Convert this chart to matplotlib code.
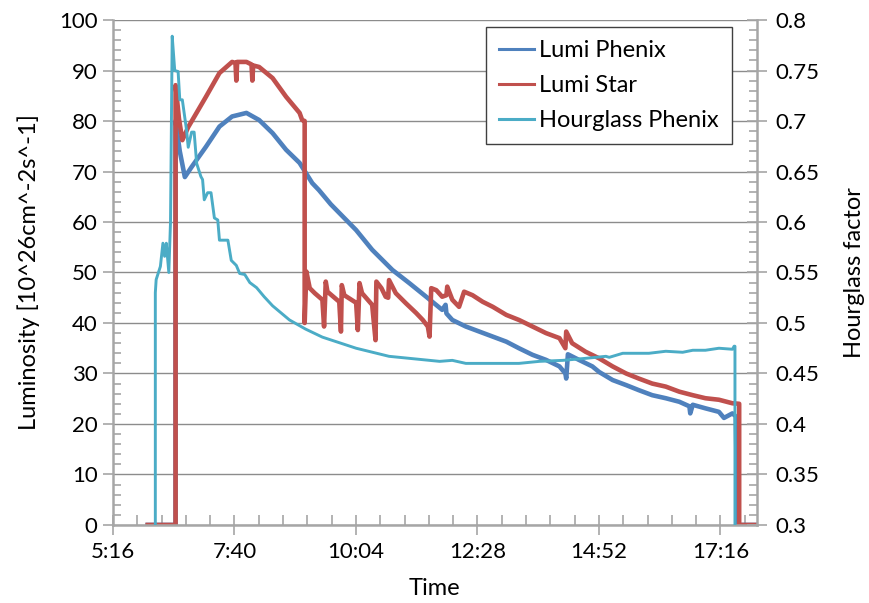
import matplotlib
matplotlib.use("Agg")
import matplotlib.pyplot as plt
from matplotlib.ticker import FixedLocator, MultipleLocator, FuncFormatter
from matplotlib.lines import Line2D

plt.rcParams['font.family'] = ['Lato', 'DejaVu Sans']

# Lumi Star (left axis)
star_t = ["5:58", "6:31", "6:31", "6:35", "6:39", "6:46", "7:07", "7:23", "7:38", "7:42", "7:43", "7:44",
          "7:55", "8:01", "8:02", "8:03", "8:10", "8:26", "8:42", "8:58", "9:01", "9:04", "9:04", "9:06",
          "9:10", "9:16", "9:25", "9:27", "9:29", "9:31", "9:45", "9:47", "9:48", "9:51", "10:05", "10:07",
          "10:09", "10:12", "10:24", "10:28", "10:29", "10:35", "10:40", "10:43", "10:44", "10:52", "11:04",
          "11:16", "11:24", "11:30", "11:32", "11:34", "11:40", "11:47", "11:52", "11:53", "11:59", "12:07",
          "12:13", "12:23", "12:35", "12:47", "13:03", "13:18", "13:34", "13:50", "14:06", "14:13", "14:14",
          "14:21", "14:37", "14:53", "15:09", "15:25", "15:40", "15:56", "16:12", "16:28", "16:44", "16:59",
          "17:15", "17:31", "17:39", "17:39", "17:59"]
star_v = [0, 0, 87.1, 80.5, 76.2, 78.8, 84.8, 89.5, 91.7, 91.5, 88.0, 91.7,
          91.7, 91.2, 88.0, 91.0, 90.7, 88.5, 84.8, 81.6, 80.2, 80.0, 40.0, 50.2,
          46.9, 45.9, 44.6, 39.3, 48.2, 46.2, 44.2, 38.3, 47.5, 45.5, 44.0, 38.6,
          47.9, 45.9, 43.6, 36.6, 48.2, 46.9, 45.2, 45.0, 48.5, 45.9, 43.9,
          42.0, 40.6, 39.3, 37.3, 46.9, 46.5, 45.2, 45.5, 47.2, 44.6, 43.2,
          46.2, 45.5, 44.2, 43.2, 41.6, 40.6, 39.3, 38.0, 37.0, 35.0, 38.3,
          36.0, 34.3, 33.0, 31.4, 30.0, 29.0, 28.0, 27.4, 26.4, 25.7, 25.1,
          24.8, 24.1, 24.0, 0, 0]

# Lumi Phenix (left axis)
phenix_t = ["5:58", "6:31", "6:31", "6:36", "6:42", "6:50", "7:07", "7:23", "7:38", "7:55", "8:10", "8:26",
            "8:42", "8:58", "9:13", "9:21", "9:35", "10:05", "10:24", "10:48", "11:08", "11:28", "11:47",
            "11:51", "11:52", "11:59", "12:15", "12:31", "12:47", "13:03", "13:18", "13:34", "13:50",
            "14:06", "14:13", "14:14", "14:16", "14:29", "14:45", "14:53", "15:09", "15:25", "15:40",
            "15:56", "16:12", "16:28", "16:40", "16:41", "16:44", "16:59", "17:15", "17:21", "17:31",
            "17:35", "17:37", "17:59"]
phenix_v = [0, 0, 80.0, 74.0, 68.9, 70.9, 74.9, 78.9, 80.9, 81.6, 80.2, 77.6,
            74.3, 71.7, 67.7, 66.3, 63.5, 58.4, 54.5, 50.5, 47.9, 45.2, 42.6,
            43.6, 41.9, 40.6, 39.3, 38.3, 37.3, 36.3, 35.0, 33.7, 32.7,
            31.4, 30.0, 29.0, 33.8, 32.7, 31.4, 30.3, 28.7, 27.7, 26.7,
            25.7, 25.1, 24.4, 23.5, 22.1, 23.8, 23.1, 22.4, 21.2, 22.1,
            21.5, 0, 0]

# Hourglass Phenix (right axis)
hg_t = ["6:07", "6:07", "6:08", "6:13", "6:16", "6:18", "6:20", "6:23", "6:25", "6:27", "6:30", "6:34",
        "6:36", "6:39", "6:44", "6:46", "6:50", "6:53", "6:56", "7:01", "7:03", "7:05", "7:09", "7:13",
        "7:17", "7:21", "7:23", "7:33", "7:37", "7:43", "7:47", "7:53", "7:59", "8:07", "8:16", "8:26",
        "8:46", "9:05", "9:25", "10:05", "10:44", "11:44", "11:59", "12:15", "12:47", "13:18", "13:42",
        "14:10", "14:37", "15:01", "15:05", "15:21", "15:52", "16:12", "16:32", "16:44", "16:59", "17:15",
        "17:31", "17:33", "17:34", "17:34"]
hg_v = [0.30, 0.53, 0.543, 0.556, 0.579, 0.566, 0.579, 0.55, 0.60, 0.784, 0.75, 0.749,
        0.721, 0.721, 0.691, 0.674, 0.689, 0.689, 0.658, 0.645, 0.642, 0.622, 0.629, 0.629,
        0.604, 0.602, 0.582, 0.582, 0.562, 0.557, 0.549, 0.548, 0.54, 0.535, 0.526, 0.517,
        0.503, 0.494, 0.486, 0.475, 0.467, 0.462, 0.463, 0.46, 0.46, 0.46, 0.462,
        0.463, 0.465, 0.467, 0.466, 0.47, 0.47, 0.472, 0.471, 0.473, 0.473, 0.475,
        0.474, 0.477, 0.477, 0.30]

# x axis in hours: Excel style axis from 0.22 d to 0.75 d, major unit 0.1 d
x_min, x_max, x_major = 5.28, 18.0, 2.4


def to_hours(labels):
    out = []
    for s in labels:
        h, m = s.split(":")
        out.append(int(h) + int(m) / 60.0)
    return out


def fmt_time(x, pos):
    mins = int(round(x * 60, 6))
    return "%d:%02d" % (mins // 60, mins % 60)


c_blue = "#4F81BD"
c_red = "#C0504D"
c_cyan = "#4BACC6"
c_axis = "#A6A6A6"
c_grid = "#8C8C8C"
fs = 16

fig = plt.figure(figsize=(8.69, 6.03), dpi=100)
ax = fig.add_axes([0.130, 0.1294, 0.741, 0.8374])
ax2 = ax.twinx()

ax.plot(to_hours(phenix_t), phenix_v, color=c_blue, lw=3.3, solid_joinstyle='round')
ax.plot(to_hours(star_t), star_v, color=c_red, lw=3.3, solid_joinstyle='round')
ax2.plot(to_hours(hg_t), hg_v, color=c_cyan, lw=2.1, solid_joinstyle='round')

ax.set_xlim(x_min, x_max)
ax.set_ylim(0, 100)
ax2.set_ylim(0.3, 0.8)

majors = [x_min + i * x_major for i in range(6)]
minors = [x_min + i * x_major / 5 for i in range(27) if i % 5 != 0]
ax.xaxis.set_major_locator(FixedLocator(majors))
ax.xaxis.set_minor_locator(FixedLocator(minors))
ax.xaxis.set_major_formatter(FuncFormatter(fmt_time))
ax.yaxis.set_major_locator(MultipleLocator(10))
ax.yaxis.set_minor_locator(MultipleLocator(2))
ax2.yaxis.set_major_locator(MultipleLocator(0.05))
ax2.yaxis.set_minor_locator(MultipleLocator(0.01))
ax2.yaxis.set_major_formatter(FuncFormatter(lambda v, p: ("%.2f" % v).rstrip("0").rstrip(".")))

ax.grid(axis='y', which='major', color=c_grid, lw=1.0)
ax.set_axisbelow(True)

for a in (ax, ax2):
    for side in ("top", "left", "right", "bottom"):
        a.spines[side].set_visible(False)
ax.spines["left"].set_visible(True)
ax.spines["bottom"].set_visible(True)
ax2.spines["right"].set_visible(True)
for sp in (ax.spines["left"], ax.spines["bottom"], ax2.spines["right"]):
    sp.set_color(c_axis)
    sp.set_linewidth(1.8)

ax.tick_params(axis='x', which='major', direction='inout', length=14, width=1.2, color=c_axis,
               labelsize=fs, pad=5)
ax.tick_params(axis='x', which='minor', direction='in', length=7, width=1.2, color=c_axis)
ax.tick_params(axis='y', which='major', direction='out', length=7, width=1.2, color=c_axis,
               labelsize=fs, pad=4)
ax.tick_params(axis='y', which='minor', direction='in', length=6, width=1.2, color=c_axis)
ax2.tick_params(axis='y', which='major', direction='inout', length=14, width=1.2, color=c_axis,
                labelsize=fs, pad=6)
ax2.tick_params(axis='y', which='minor', direction='in', length=6, width=1.2, color=c_axis)

ax.set_xlabel("Time", fontsize=fs + 1, labelpad=12)
ax.set_ylabel("Luminosity [10^26cm^-2s^-1]", fontsize=fs + 1, labelpad=14)
ax2.set_ylabel("Hourglass factor", fontsize=fs + 1, labelpad=18)

handles = [Line2D([], [], color=c_blue, lw=2.2),
           Line2D([], [], color=c_red, lw=2.2),
           Line2D([], [], color=c_cyan, lw=2.2)]
leg = ax2.legend(handles, ["Lumi Phenix", "Lumi Star", "Hourglass Phenix"],
                 loc='upper right', bbox_to_anchor=(0.961, 0.986), borderaxespad=0,
                 fontsize=fs + 1, fancybox=False, framealpha=1, edgecolor='#404040',
                 handlelength=1.5, handletextpad=0.2, labelspacing=0.6, borderpad=0.55)
leg.get_frame().set_linewidth(1.0)

fig.savefig("out.png", dpi=100)
